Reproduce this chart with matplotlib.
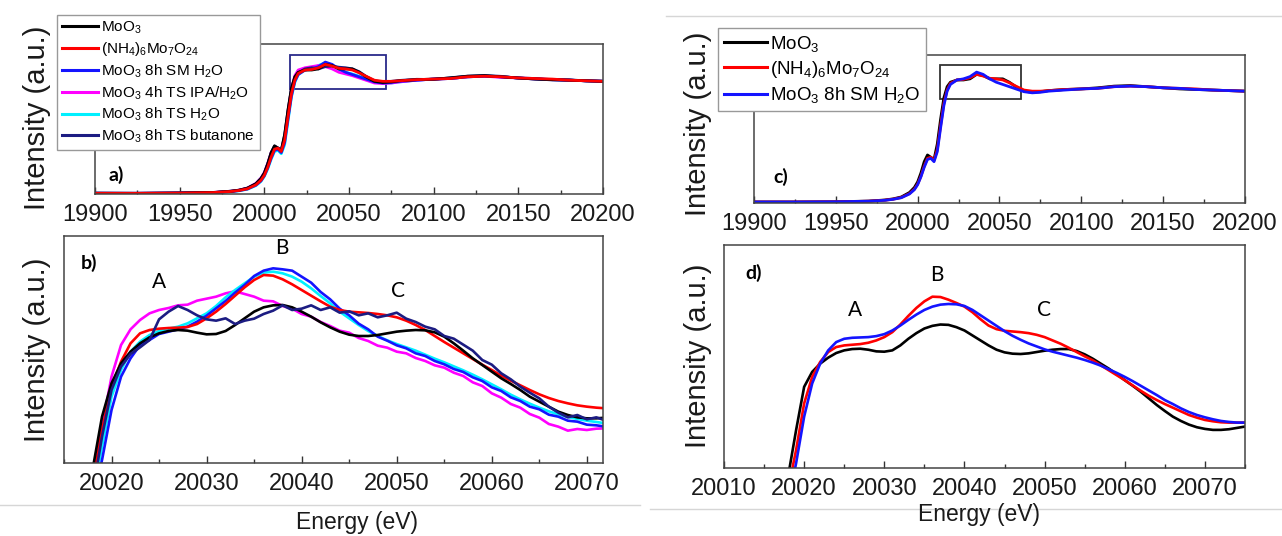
import numpy as np
import matplotlib
matplotlib.use("Agg")
import matplotlib.pyplot as plt
from matplotlib.patches import Rectangle
from matplotlib.lines import Line2D
from matplotlib.ticker import MultipleLocator

plt.rcParams['font.family'] = ['Liberation Sans', 'DejaVu Sans']
plt.rcParams['mathtext.default'] = 'regular'

# ---------------- data ----------------
labels = ["MoO$_3$", "(NH$_4$)$_6$Mo$_7$O$_{24}$", "MoO$_3$ 8h SM H$_2$O",
          "MoO$_3$ 4h TS IPA/H$_2$O", "MoO$_3$ 8h TS H$_2$O", "MoO$_3$ 8h TS butanone"]
colors = ["#000000", "#ff0000", "#1414ff", "#ff00ff", "#00f0ff", "#1c1c82"]

# overview spectra (normalised), panels a) and c)
E_over = [19900, 19925, 19950, 19970, 19980, 19985, 19990, 19995, 19998, 20000,
          20002, 20004, 20006, 20008, 20010, 20012, 20014, 20016, 20018, 20020,
          20024, 20028, 20032, 20036, 20040, 20044, 20048, 20052, 20056, 20060,
          20065, 20070, 20075, 20080, 20090, 20100, 20110, 20120, 20130, 20140,
          20150, 20160, 20170, 20180, 20190, 20200]
moo3_over = [0.000, 0.000, 0.002, 0.008, 0.018, 0.028, 0.045, 0.085, 0.130, 0.180,
             0.260, 0.360, 0.420, 0.400, 0.380, 0.520, 0.740, 0.930, 1.030, 1.070,
             1.090, 1.090, 1.100, 1.140, 1.130, 1.100, 1.100, 1.100, 1.070, 1.030,
             0.990, 0.980, 0.985, 0.995, 1.005, 1.010, 1.020, 1.035, 1.040, 1.030,
             1.020, 1.010, 1.005, 1.000, 0.995, 0.990]
ahm_over = [0.000, 0.000, 0.002, 0.007, 0.016, 0.025, 0.040, 0.075, 0.115, 0.160,
            0.230, 0.320, 0.390, 0.400, 0.370, 0.470, 0.680, 0.880, 1.000, 1.060,
            1.090, 1.095, 1.110, 1.140, 1.125, 1.105, 1.100, 1.090, 1.065, 1.035,
            1.000, 0.990, 0.990, 0.995, 1.005, 1.010, 1.015, 1.030, 1.035, 1.030,
            1.020, 1.015, 1.010, 1.000, 0.995, 0.990]
sm_h2o_over = [0.000, 0.000, 0.002, 0.007, 0.015, 0.024, 0.038, 0.072, 0.110, 0.155,
               0.225, 0.310, 0.380, 0.390, 0.360, 0.450, 0.660, 0.860, 0.990, 1.050,
               1.090, 1.100, 1.120, 1.160, 1.140, 1.100, 1.070, 1.050, 1.030, 1.010,
               0.985, 0.975, 0.980, 0.990, 1.000, 1.010, 1.015, 1.030, 1.035, 1.030,
               1.020, 1.015, 1.005, 1.000, 0.995, 0.990]
ts_ipa_over = [0.000, 0.000, 0.002, 0.008, 0.018, 0.028, 0.046, 0.088, 0.135, 0.185,
               0.265, 0.360, 0.410, 0.400, 0.380, 0.500, 0.720, 0.920, 1.040, 1.090,
               1.110, 1.120, 1.130, 1.120, 1.100, 1.070, 1.055, 1.040, 1.020, 1.000,
               0.975, 0.970, 0.975, 0.985, 1.000, 1.010, 1.015, 1.030, 1.035, 1.025,
               1.020, 1.010, 1.005, 1.000, 0.995, 0.990]
ts_h2o_over = [0.000, 0.000, 0.002, 0.006, 0.014, 0.022, 0.036, 0.068, 0.105, 0.150,
               0.215, 0.300, 0.370, 0.380, 0.350, 0.430, 0.640, 0.850, 0.980, 1.050,
               1.090, 1.100, 1.130, 1.155, 1.135, 1.095, 1.070, 1.055, 1.035, 1.015,
               0.985, 0.975, 0.975, 0.985, 1.000, 1.010, 1.015, 1.030, 1.035, 1.030,
               1.020, 1.010, 1.005, 1.000, 0.995, 0.990]
ts_but_over = [0.003, 0.000, 0.004, 0.006, 0.019, 0.027, 0.047, 0.083, 0.132, 0.178,
               0.262, 0.355, 0.418, 0.402, 0.378, 0.515, 0.735, 0.925, 1.025, 1.065,
               1.100, 1.110, 1.100, 1.120, 1.125, 1.115, 1.110, 1.100, 1.075, 1.035,
               0.995, 0.985, 0.990, 0.998, 1.008, 1.006, 1.022, 1.036, 1.042, 1.034,
               1.018, 1.012, 1.002, 1.004, 0.993, 0.992]

# zoomed spectra, panel b)
E_b = list(range(20017, 20073))
moo3_b = [0.700, 0.880, 1.040, 1.140, 1.200, 1.235, 1.260, 1.278, 1.290, 1.297,
          1.300, 1.298, 1.292, 1.287, 1.288, 1.297, 1.315, 1.335, 1.355, 1.368,
          1.374, 1.375, 1.368, 1.355, 1.340, 1.323, 1.308, 1.295, 1.286, 1.282,
          1.282, 1.285, 1.290, 1.295, 1.298, 1.300, 1.299, 1.293, 1.280, 1.260,
          1.238, 1.215, 1.195, 1.175, 1.155, 1.138, 1.120, 1.100, 1.085, 1.070,
          1.055, 1.045, 1.038, 1.035, 1.035, 1.037]
ahm_b = [0.680, 0.840, 1.000, 1.130, 1.205, 1.260, 1.290, 1.300, 1.304, 1.306,
         1.307, 1.309, 1.318, 1.335, 1.355, 1.378, 1.403, 1.428, 1.450, 1.465,
         1.463, 1.452, 1.437, 1.420, 1.403, 1.386, 1.370, 1.360, 1.355, 1.353,
         1.351, 1.348, 1.344, 1.338, 1.328, 1.315, 1.300, 1.282, 1.264, 1.247,
         1.230, 1.213, 1.196, 1.180, 1.163, 1.148, 1.134, 1.120, 1.107, 1.096,
         1.087, 1.080, 1.074, 1.070, 1.067, 1.065]
sm_h2o_b = [0.650, 0.780, 0.910, 1.060, 1.160, 1.215, 1.255, 1.270, 1.288, 1.295,
            1.302, 1.310, 1.325, 1.343, 1.365, 1.387, 1.412, 1.435, 1.462, 1.478,
            1.485, 1.482, 1.478, 1.460, 1.442, 1.414, 1.392, 1.364, 1.344, 1.319,
            1.302, 1.280, 1.268, 1.254, 1.245, 1.230, 1.222, 1.207, 1.197, 1.183,
            1.174, 1.158, 1.147, 1.128, 1.117, 1.098, 1.087, 1.070, 1.062, 1.046,
            1.040, 1.028, 1.025, 1.016, 1.014, 1.010]
ts_ipa_b = [0.700, 0.840, 1.010, 1.160, 1.255, 1.302, 1.330, 1.350, 1.360, 1.366,
            1.374, 1.376, 1.388, 1.394, 1.400, 1.410, 1.416, 1.408, 1.400, 1.388,
            1.386, 1.372, 1.364, 1.348, 1.340, 1.324, 1.312, 1.298, 1.292, 1.276,
            1.267, 1.253, 1.247, 1.235, 1.230, 1.216, 1.207, 1.194, 1.187, 1.172,
            1.162, 1.143, 1.132, 1.110, 1.097, 1.078, 1.067, 1.048, 1.037, 1.018,
            1.010, 0.998, 1.003, 1.000, 1.004, 1.005]
ts_h2o_b = [0.670, 0.800, 0.950, 1.100, 1.180, 1.235, 1.265, 1.285, 1.297, 1.304,
            1.310, 1.320, 1.335, 1.350, 1.372, 1.398, 1.420, 1.440, 1.460, 1.472,
            1.475, 1.470, 1.460, 1.445, 1.425, 1.402, 1.380, 1.355, 1.335, 1.315,
            1.297, 1.282, 1.269, 1.258, 1.248, 1.238, 1.226, 1.214, 1.203, 1.191,
            1.179, 1.166, 1.152, 1.137, 1.122, 1.106, 1.092, 1.079, 1.067, 1.056,
            1.047, 1.039, 1.033, 1.028, 1.024, 1.020]
ts_but_b = [0.680, 0.810, 0.980, 1.120, 1.190, 1.228, 1.248, 1.270, 1.332, 1.355,
            1.372, 1.360, 1.344, 1.332, 1.328, 1.335, 1.318, 1.328, 1.334, 1.348,
            1.358, 1.374, 1.360, 1.364, 1.374, 1.360, 1.368, 1.352, 1.356, 1.344,
            1.350, 1.338, 1.344, 1.352, 1.334, 1.324, 1.310, 1.302, 1.282, 1.274,
            1.256, 1.238, 1.210, 1.196, 1.170, 1.152, 1.130, 1.112, 1.095, 1.070,
            1.052, 1.038, 1.045, 1.032, 1.038, 1.028]

# zoomed spectra, panel d)
E_d = list(range(20017, 20076))
moo3_d = [0.720, 0.860, 1.000, 1.130, 1.175, 1.200, 1.218, 1.232, 1.240, 1.244,
          1.245, 1.242, 1.237, 1.236, 1.240, 1.255, 1.275, 1.292, 1.306, 1.314,
          1.318, 1.317, 1.310, 1.300, 1.285, 1.270, 1.255, 1.242, 1.234, 1.230,
          1.229, 1.231, 1.235, 1.239, 1.242, 1.244, 1.244, 1.238, 1.228, 1.215,
          1.200, 1.185, 1.168, 1.150, 1.133, 1.115, 1.095, 1.075, 1.057, 1.040,
          1.027, 1.016, 1.008, 1.003, 1.000, 1.000, 1.002, 1.006, 1.010]
ahm_d = [0.700, 0.820, 0.940, 1.080, 1.160, 1.205, 1.235, 1.250, 1.255, 1.257,
         1.259, 1.263, 1.270, 1.280, 1.295, 1.318, 1.344, 1.368, 1.388, 1.402,
         1.401, 1.393, 1.383, 1.372, 1.355, 1.334, 1.315, 1.304, 1.299, 1.297,
         1.295, 1.292, 1.287, 1.280, 1.270, 1.260, 1.248, 1.235, 1.222, 1.210,
         1.195, 1.180, 1.165, 1.150, 1.134, 1.118, 1.103, 1.090, 1.078, 1.067,
         1.056, 1.045, 1.037, 1.030, 1.026, 1.023, 1.022, 1.022, 1.022]
sm_h2o_d = [0.660, 0.780, 0.900, 1.040, 1.140, 1.200, 1.240, 1.265, 1.275, 1.278,
            1.279, 1.280, 1.283, 1.289, 1.300, 1.315, 1.332, 1.348, 1.362, 1.372,
            1.378, 1.380, 1.379, 1.374, 1.362, 1.346, 1.330, 1.314, 1.298, 1.284,
            1.272, 1.261, 1.252, 1.243, 1.236, 1.230, 1.224, 1.218, 1.211, 1.203,
            1.194, 1.183, 1.172, 1.160, 1.147, 1.133, 1.119, 1.105, 1.090, 1.078,
            1.065, 1.054, 1.045, 1.038, 1.032, 1.027, 1.024, 1.022, 1.022]

over_series = [moo3_over, ahm_over, sm_h2o_over, ts_ipa_over, ts_h2o_over, ts_but_over]
b_series = [moo3_b, ahm_b, sm_h2o_b, ts_ipa_b, ts_h2o_b, ts_but_b]
d_series = [moo3_d, ahm_d, sm_h2o_d]

# ---------------- figure ----------------
W, H = 1282, 536
fig = plt.figure(figsize=(W / 100, H / 100), dpi=100)


def add_ax(l, t, r, b):
    return fig.add_axes([l / W, 1 - b / H, (r - l) / W, (b - t) / H])


def style(ax, major, minor):
    ax.xaxis.set_major_locator(MultipleLocator(major))
    ax.xaxis.set_minor_locator(MultipleLocator(minor))
    ax.tick_params(axis='x', which='both', direction='in', top=False,
                   labelsize=17, colors='#333333', labelcolor='#1a1a1a', pad=7)
    ax.tick_params(axis='x', which='major', length=5, width=1)
    ax.tick_params(axis='x', which='minor', length=3, width=1)
    ax.tick_params(axis='y', which='both', left=False, right=False, labelleft=False)
    for s in ax.spines.values():
        s.set_color('#444444')
        s.set_linewidth(1.1)


ax_a = add_ax(95, 44, 603, 194)
ax_b = add_ax(64, 236, 603, 463)
ax_c = add_ax(754, 55, 1245, 203)
ax_d = add_ax(724, 245, 1245, 468)

# a) overview, all six samples
handles = []
for i in [4, 3, 2, 5, 0, 1]:
    ax_a.plot(E_over, over_series[i], color=colors[i], lw=2.0)
for i in range(6):
    handles.append(Line2D([], [], color=colors[i], lw=2.2))
ax_a.set_xlim(19900, 20200)
ax_a.set_ylim(-0.006, 1.32)
ax_a.add_patch(Rectangle((20015, 0.92), 57, 0.30, fill=False, ec='#2a2a8a', lw=1.3))
style(ax_a, 50, 25)
ax_a.text(0.041, 0.127, "a)", transform=ax_a.transAxes, fontsize=14,
          fontweight='bold', family='Lato', ha='center', va='center')
leg = fig.legend(handles, labels, loc='upper left', bbox_to_anchor=(57 / W, 1 - 15 / H),
                 fontsize=11, handlelength=2.4, handletextpad=0.2, labelspacing=0.28,
                 borderpad=0.3, borderaxespad=0, fancybox=False, framealpha=1,
                 edgecolor='#999999')
leg.get_frame().set_linewidth(1.0)

# b) zoom of the white line region
for i in [3, 4, 2, 1, 0, 5]:
    ax_b.plot(E_b, b_series[i], color=colors[i], lw=1.9)
ax_b.set_xlim(20015, 20071.7)
ax_b.set_ylim(0.901, 1.582)
style(ax_b, 10, 5)
ax_b.text(0.046, 0.881, "b)", transform=ax_b.transAxes, fontsize=14,
          fontweight='bold', family='Lato', ha='center', va='center')
for s, x, y in [("A", 20025.0, 1.444), ("B", 20037.9, 1.546), ("C", 20050.1, 1.417)]:
    ax_b.text(x, y, s, fontsize=15, family='Lato', ha='center', va='center')

# c) overview, three samples
for i in [0, 1, 2]:
    ax_c.plot(E_over, over_series[i], color=colors[i], lw=2.0)
ax_c.set_xlim(19900, 20200)
ax_c.set_ylim(-0.009, 1.313)
ax_c.add_patch(Rectangle((20013.6, 0.92), 49.3, 0.30, fill=False, ec='#333333', lw=1.3))
style(ax_c, 50, 25)
ax_c.text(0.055, 0.176, "c)", transform=ax_c.transAxes, fontsize=14,
          fontweight='bold', family='Lato', ha='center', va='center')
leg2 = fig.legend(handles[:3], labels[:3], loc='upper left',
                  bbox_to_anchor=(718 / W, 1 - 28 / H),
                  fontsize=13.5, handlelength=2.3, handletextpad=0.2, labelspacing=0.28,
                  borderpad=0.3, borderaxespad=0, fancybox=False, framealpha=1,
                  edgecolor='#999999')
leg2.get_frame().set_linewidth(1.0)

# d) zoom, three samples
for i in [0, 1, 2]:
    ax_d.plot(E_d, d_series[i], color=colors[i], lw=1.9)
ax_d.set_xlim(20010, 20075)
ax_d.set_ylim(0.885, 1.558)
style(ax_d, 10, 5)
ax_d.text(0.056, 0.874, "d)", transform=ax_d.transAxes, fontsize=14,
          fontweight='bold', family='Lato', ha='center', va='center')
for s, x, y in [("A", 20026.4, 1.363), ("B", 20036.6, 1.468), ("C", 20049.9, 1.363)]:
    ax_d.text(x, y, s, fontsize=15, family='Lato', ha='center', va='center')

# axis titles
for x, y in [(37, 118), (37, 350), (698, 124), (698, 356)]:
    fig.text(x / W, 1 - y / H, "Intensity (a.u.)", rotation=90, fontsize=21,
             ha='center', va='center', color='#1a1a1a')
fig.text(357 / W, 1 - 523 / H, "Energy (eV)", fontsize=16.5, ha='center', va='center',
         color='#1a1a1a')
fig.text(979 / W, 1 - 515 / H, "Energy (eV)", fontsize=16.5, ha='center', va='center',
         color='#1a1a1a')

# faint page rules
for x0, x1, y in [(0, 640, 505), (650, 1282, 509), (666, 1282, 16)]:
    fig.add_artist(Line2D([x0 / W, x1 / W], [1 - y / H, 1 - y / H],
                          transform=fig.transFigure, color='#d6d6d6', lw=1))

fig.savefig("out.png", dpi=100, facecolor='white')
